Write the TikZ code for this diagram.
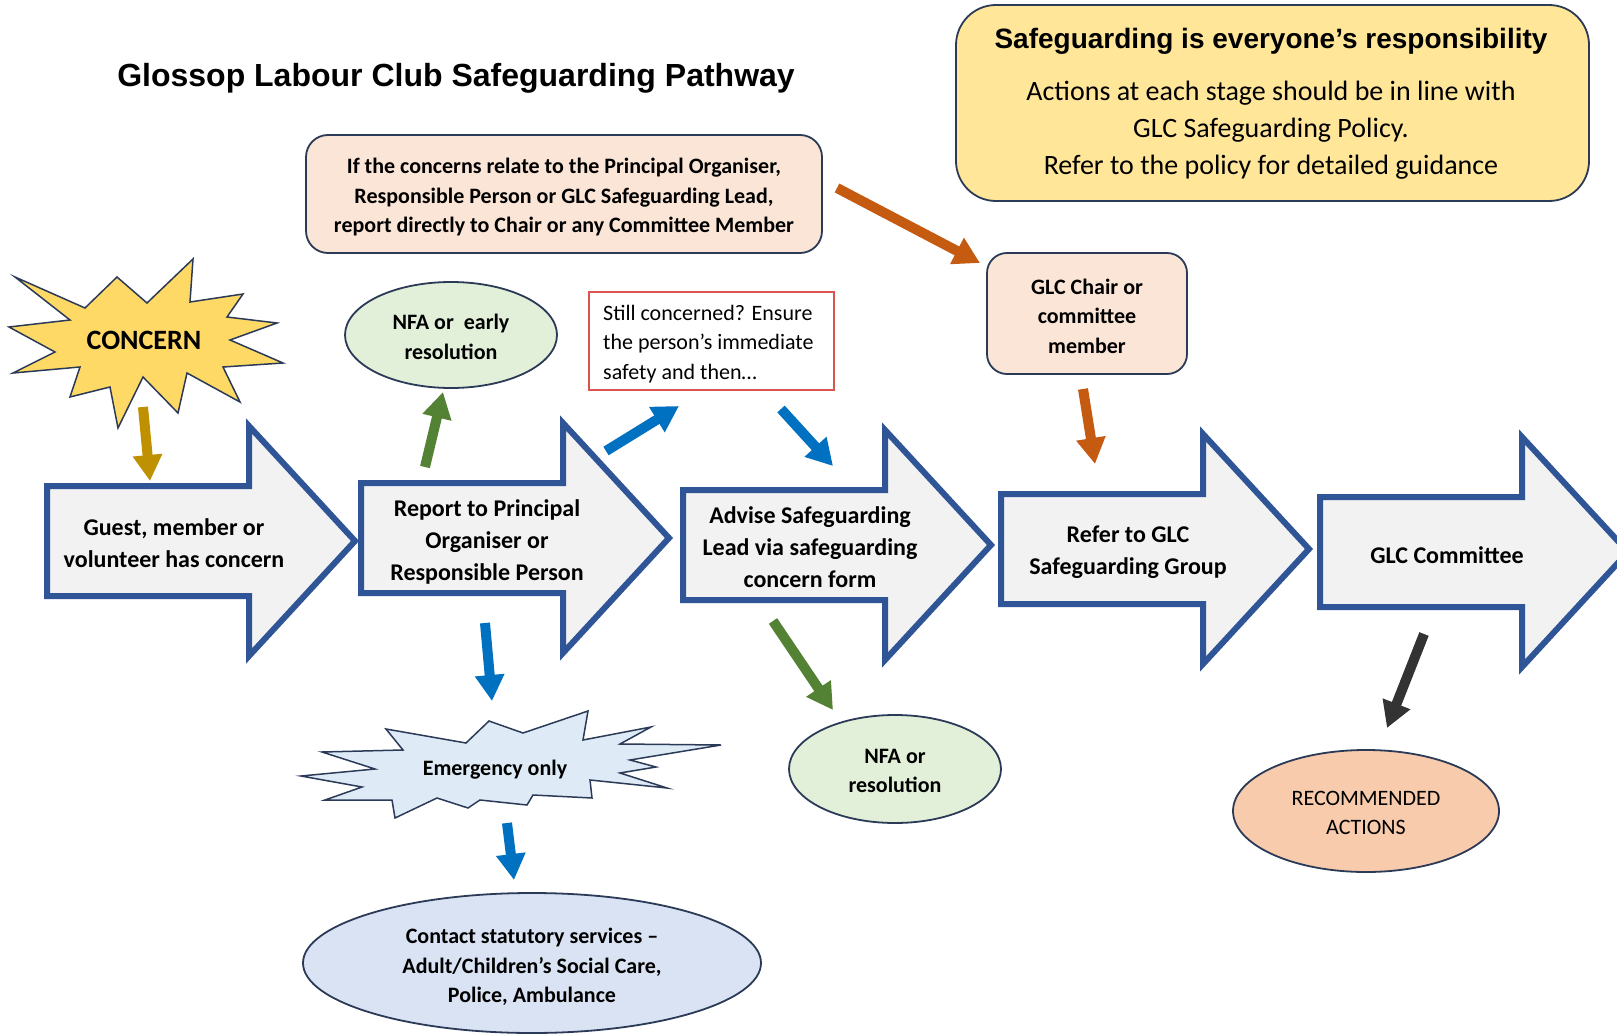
\documentclass[tikz,border=0pt]{standalone}
\usepackage{fontspec}
\setmainfont{Carlito}
\newfontfamily\arialfont{Liberation Sans}
\usetikzlibrary{arrows.meta,shapes.geometric}
\definecolor{arrowblue}{HTML}{2F5597}
\definecolor{arrowfill}{HTML}{F2F2F2}
\definecolor{navy}{HTML}{2B3A57}
\definecolor{yellowbox}{HTML}{FFE699}
\definecolor{peach}{HTML}{FBE5D6}
\definecolor{lgreen}{HTML}{E2F0D9}
\definecolor{lblue}{HTML}{DEEBF7}
\definecolor{cblue}{HTML}{DAE3F3}
\definecolor{recfill}{HTML}{F8CBAD}
\definecolor{staryellow}{HTML}{FFD966}
\definecolor{redline}{HTML}{D9534F}
\definecolor{cgold}{HTML}{BF9000}
\definecolor{cgreen}{HTML}{548235}
\definecolor{cblueA}{HTML}{0070C0}
\definecolor{corange}{HTML}{C55A11}
\definecolor{cdark}{HTML}{333333}
\tikzset{
  bigarrow/.style={draw=arrowblue, fill=arrowfill, line width=6pt, miter limit=10},
  arrowtext/.style={font=\fontsize{24}{32}\selectfont\bfseries, align=center, inner sep=0pt},
  boxtext/.style={font=\fontsize{22}{29.5}\selectfont\bfseries, align=center, inner sep=0pt},
  plaintext/.style={font=\fontsize{22}{29.5}\selectfont, align=center, inner sep=0pt},
  roundbox/.style={draw=navy, line width=1.8pt, rounded corners=#1, inner sep=0pt},
  oval/.style={ellipse, draw=navy, line width=1.8pt, inner sep=0pt},
  fat/.style={line width=10pt, -{Triangle[width=28pt,length=26pt]}},
}
\newcommand\bigarr[2]{%
  \draw[bigarrow] (#1,#2-55) -- (#1+202,#2-55) -- (#1+202,#2-115) -- (#1+308,#2)
    -- (#1+202,#2+115) -- (#1+202,#2+55) -- (#1,#2+55) -- cycle;}
\begin{document}
\begin{tikzpicture}[x=1pt,y=-1pt]
\fill[white] (0,0) rectangle (1617,1035);
\useasboundingbox (0,0) rectangle (1617,1035);
\clip (0,0) rectangle (1617,1035);

% title
\node[font=\arialfont\bfseries\fontsize{32}{38}\selectfont, inner sep=0pt] (title) at (456,78) {Glossop Labour Club Safeguarding Pathway};

% policy box
\node[roundbox=40pt, fill=yellowbox, minimum width=633pt, minimum height=196pt] (policy) at (1272.5,103) {};
\node[font=\arialfont\bfseries\fontsize{28}{34}\selectfont, inner sep=0pt] (policyhead) at (1271,41) {Safeguarding is everyone’s responsibility};
\node[font=\fontsize{28}{37}\selectfont, align=center, inner sep=0pt] (policytext) at (1271,130.5) {Actions at each stage should be in line with\\GLC Safeguarding Policy.\\Refer to the policy for detailed guidance};

% top peach box
\node[roundbox=22pt, fill=peach, minimum width=516pt, minimum height=118pt] (direct) at (564,194) {};
\node[boxtext] (directtext) at (564,197.5) {If the concerns relate to the Principal Organiser,\\Responsible Person or GLC Safeguarding Lead,\\report directly to Chair or any Committee Member};

% chair box
\node[roundbox=20pt, fill=peach, minimum width=200pt, minimum height=121pt] (chair) at (1087,313.5) {};
\node[boxtext] (chairtext) at (1087,316) {GLC Chair or\\committee\\member};

% still concerned
\node[draw=redline, line width=1.5pt, fill=white, minimum width=245pt, minimum height=98pt, inner sep=0pt] (still) at (711.5,341) {};
\node[font=\fontsize{22}{29.5}\selectfont, align=left, inner sep=0pt, anchor=west] (stilltext) at (603,344) {Still concerned? Ensure\\the person’s immediate\\safety and then…};

% big arrows
\bigarr{47}{541}
\bigarr{361}{538}
\bigarr{683}{545}
\bigarr{1001}{549}
\bigarr{1320}{552}
\node[arrowtext] (guest) at (174,543.5) {Guest, member or\\volunteer has concern};
\node[arrowtext] (report) at (487,541.5) {Report to Principal\\Organiser or\\Responsible Person};
\node[arrowtext] (advise) at (810,547.5) {Advise Safeguarding\\Lead via safeguarding\\concern form};
\node[arrowtext] (refer) at (1128,552.5) {Refer to GLC\\Safeguarding Group};
\node[arrowtext] (committee) at (1447,555) {GLC Committee};

% concern star
\draw[draw=navy, line width=1.5pt, fill=staryellow, line join=miter]
 (193,259) -- (190,302) -- (243,294) -- (227,317) -- (277,323) -- (230,340) -- (283,363)
 -- (223,367) -- (240,402) -- (187,373) -- (178,413) -- (143,377) -- (118,428) -- (110,387)
 -- (70,397) -- (80,367) -- (13,373) -- (55,352) -- (9,327) -- (70,320) -- (15,277)
 -- (85,308) -- (117,277) -- (147,303) -- cycle;
\node[font=\fontsize{28}{32}\selectfont\bfseries, inner sep=0pt] (concern) at (144,340) {CONCERN};

% emergency star
\draw[draw=navy, line width=1.5pt, fill=lblue, line join=miter]
 (301,776) -- (375,769) -- (322,752) -- (403,750) -- (386,729) -- (466,743) -- (489,721)
 -- (523,733) -- (588,711) -- (583,740) -- (651,727) -- (620,744) -- (721,745) -- (630,760)
 -- (656,767) -- (620,773) -- (667,788) -- (590,780) -- (592,798) -- (533,795) -- (527,805)
 -- (480,800) -- (468,808) -- (437,798) -- (395,818) -- (392,800) -- (325,800) -- (362,787) -- cycle;
\node[boxtext] (emergency) at (495,769.5) {Emergency only};

% ellipses
\node[oval, fill=lgreen, minimum width=212pt, minimum height=106pt] (nfa1) at (451,335) {};
\node[boxtext] (nfa1text) at (451,337) {NFA or\ \ early\\resolution};
\node[oval, fill=lgreen, minimum width=212pt, minimum height=108pt] (nfa2) at (895,769) {};
\node[boxtext] (nfa2text) at (895,771) {NFA or\\resolution};
\node[oval, fill=cblue, minimum width=458pt, minimum height=140pt] (contact) at (532,963) {};
\node[boxtext] (contacttext) at (532,967) {Contact statutory services –\\Adult/Children’s Social Care,\\Police, Ambulance};
\node[oval, fill=recfill, minimum width=266pt, minimum height=122pt] (rec) at (1366,811) {};
\node[plaintext] (rectext) at (1366,813) {RECOMMENDED\\ACTIONS};

% connector arrows
\coordinate (c1s) at (143,407); \coordinate (c1e) at (150,481);
\draw[fat, cgold] (c1s) -- (c1e);
\coordinate (c2s) at (425,467); \coordinate (c2e) at (443,392);
\draw[fat, cgreen] (c2s) -- (c2e);
\coordinate (c3s) at (606,451); \coordinate (c3e) at (679,406);
\draw[fat, cblueA] (c3s) -- (c3e);
\coordinate (c4s) at (781,409); \coordinate (c4e) at (833,466);
\draw[fat, cblueA] (c4s) -- (c4e);
\coordinate (c5s) at (837,188); \coordinate (c5e) at (980,263);
\draw[fat, corange] (c5s) -- (c5e);
\coordinate (c6s) at (1083,389); \coordinate (c6e) at (1095,464);
\draw[fat, corange] (c6s) -- (c6e);
\coordinate (c7s) at (485,623); \coordinate (c7e) at (492,701);
\draw[fat, cblueA] (c7s) -- (c7e);
\coordinate (c8s) at (507,823); \coordinate (c8e) at (514,880);
\draw[fat, cblueA] (c8s) -- (c8e);
\coordinate (c9s) at (773,621); \coordinate (c9e) at (833,710);
\draw[fat, cgreen] (c9s) -- (c9e);
\coordinate (c10s) at (1424,634); \coordinate (c10e) at (1387,728);
\draw[fat, cdark] (c10s) -- (c10e);
\end{tikzpicture}
\end{document}
